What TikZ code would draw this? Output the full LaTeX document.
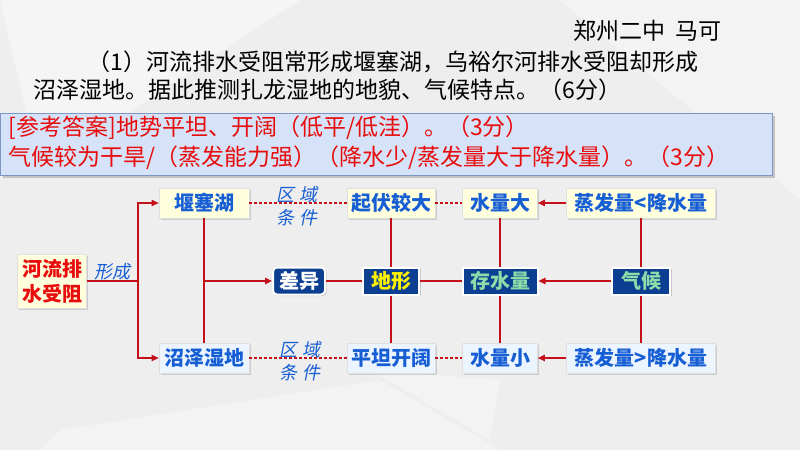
\documentclass[tikz,border=0pt]{standalone}
\usepackage{fontspec}
\setmainfont{Noto Sans CJK SC}
\newfontfamily\cjksl[FakeSlant=0.2]{Noto Sans CJK SC}
\usetikzlibrary{arrows.meta,shadows}
\definecolor{boxblue}{RGB}{12,62,146}
\definecolor{txtblue}{RGB}{22,94,212}
\definecolor{linered}{RGB}{196,16,24}
\definecolor{ansred}{RGB}{232,12,12}
\definecolor{paleyellow}{RGB}{255,255,222}
\definecolor{paleblue}{RGB}{236,244,255}
\definecolor{ansblue}{RGB}{214,226,247}
\definecolor{ansedge}{RGB}{128,150,194}
\definecolor{mintgreen}{RGB}{140,220,170}
\definecolor{bggray}{RGB}{238,238,239}

\begin{document}
\begin{tikzpicture}[x=1pt,y=-1pt,
	litebox/.style={draw=gray!25, line width=0.8pt, minimum height=30pt, inner xsep=3pt, text=txtblue, font=\fontsize{20}{20}\selectfont\bfseries, drop shadow={opacity=0.3, shadow xshift=1.5pt, shadow yshift=-1.5pt}},
	upbox/.style={litebox, fill=paleyellow},
	lowbox/.style={litebox, fill=paleblue},
	darkbox/.style={draw=white, line width=2pt, fill=boxblue, minimum height=27pt, inner xsep=3pt, font=\fontsize{20}{20}\selectfont\bfseries, drop shadow={opacity=0.35, shadow xshift=1.5pt, shadow yshift=-1.5pt}},
	link/.style={linered, line width=1.1pt},
	arr/.style={link, -{Triangle[length=7pt,width=6.5pt]}},
	cond/.style={text=txtblue, font=\cjksl\fontsize{18}{23}\selectfont, align=center}]
	\useasboundingbox (0,0) rectangle (800,450);
	\fill[bggray] (0,0) rectangle (800,450);
	\fill[white, opacity=0.45] (0,0) -- (300,0) -- (40,170) -- cycle;
	\fill[white, opacity=0.35] (60,430) -- (380,380) -- (500,450) -- (40,450) -- cycle;
	\fill[white, opacity=0.35] (370,370) -- (500,380) -- (490,440) -- cycle;
	\fill[white, opacity=0.3] (560,0) -- (800,0) -- (800,200) -- cycle;
	% question
	\node[anchor=east, font=\fontsize{23}{23}\selectfont] (author) at (725,31) {郑州二中\ \ 马可};
	\node[anchor=west, font=\fontsize{23}{23}\selectfont] (q1) at (84,62) {（1）河流排水受阻常形成堰塞湖，乌裕尔河排水受阻却形成};
	\node[anchor=west, font=\fontsize{23}{23}\selectfont] (q2) at (30,90) {沼泽湿地。据此推测扎龙湿地的地貌、气候特点。（6分）};
	% answer
	\node[anchor=north west, draw=ansedge, line width=1pt, fill=ansblue, minimum width=772pt, minimum height=62pt, inner sep=0pt, drop shadow={opacity=0.4, shadow xshift=2pt, shadow yshift=-2pt}] (ans) at (0,113) {};
	\node[anchor=west, text=ansred, font=\fontsize{23}{23}\selectfont] (a1) at (5,128) {[参考答案]地势平坦、开阔（低平/低洼）。（3分）};
	\node[anchor=west, text=ansred, font=\fontsize{23}{23}\selectfont] (a2) at (5,158) {气候较为干旱/（蒸发能力强）（降水少/蒸发量大于降水量）。（3分）};
	% chart
	\node[upbox, text=ansred, minimum width=69pt, minimum height=54pt, align=center, font=\fontsize{20}{25}\selectfont\bfseries] (river) at (52,281) {河流排\\水受阻};
	\node[upbox, minimum width=90pt] (lake) at (204,203) {堰塞湖};
	\node[lowbox, minimum width=90pt] (marsh) at (204,358) {沼泽湿地};
	\node[darkbox, rounded corners=4pt, text=white, minimum width=52pt] (diff) at (299,281) {差异};
	\node[upbox, minimum width=88pt] (rough) at (391,203) {起伏较大};
	\node[darkbox, text=yellow, minimum width=56pt] (terr) at (391,281) {地形};
	\node[lowbox, minimum width=88pt] (flat) at (391,358) {平坦开阔};
	\node[upbox, minimum width=75pt] (wetu) at (500,203) {水量大};
	\node[darkbox, text=mintgreen, minimum width=75pt] (store) at (500,281) {存水量};
	\node[lowbox, minimum width=75pt] (wetd) at (500,358) {水量小};
	\node[upbox, minimum width=149pt] (evapu) at (641,203) {蒸发量<降水量};
	\node[darkbox, text=mintgreen, minimum width=58pt] (clim) at (641,281) {气候};
	\node[lowbox, minimum width=149pt] (evapd) at (641,358) {蒸发量>降水量};
	\node[text=txtblue, font=\cjksl\fontsize{18}{18}\selectfont] (form) at (112,272) {形成};
	\node[cond] (condu) at (297,206) {区\ 域\\条\ 件};
	\node[cond] (condd) at (300,361) {区\ 域\\条\ 件};
	\coordinate (fork) at (138,281);
	\draw[link] (river.east) -- (fork);
	\draw[arr] (fork) |- (lake.west);
	\draw[arr] (fork) |- (marsh.west);
	\draw[link] (lake.south) -- (marsh.north);
	\draw[arr] (lake.south |- diff.west) -- (diff.west);
	\draw[link, densely dashed] (lake.east) -- (rough.west);
	\draw[link, densely dashed] (rough.east) -- (wetu.west);
	\draw[link, densely dashed] (marsh.east) -- (flat.west);
	\draw[link, densely dashed] (flat.east) -- (wetd.west);
	\draw[link] (diff.east) -- (terr.west);
	\draw[link] (terr.east) -- (store.west);
	\draw[arr] (clim.west) -- (store.east);
	\draw[arr] (evapu.west) -- (wetu.east);
	\draw[arr] (evapd.west) -- (wetd.east);
	\draw[link] (rough.south) -- (terr.north);
	\draw[link] (terr.south) -- (flat.north);
	\draw[link] (wetu.south) -- (store.north);
	\draw[link] (store.south) -- (wetd.north);
	\draw[link] (evapu.south) -- (clim.north);
	\draw[link] (clim.south) -- (evapd.north);
\end{tikzpicture}
\end{document}
